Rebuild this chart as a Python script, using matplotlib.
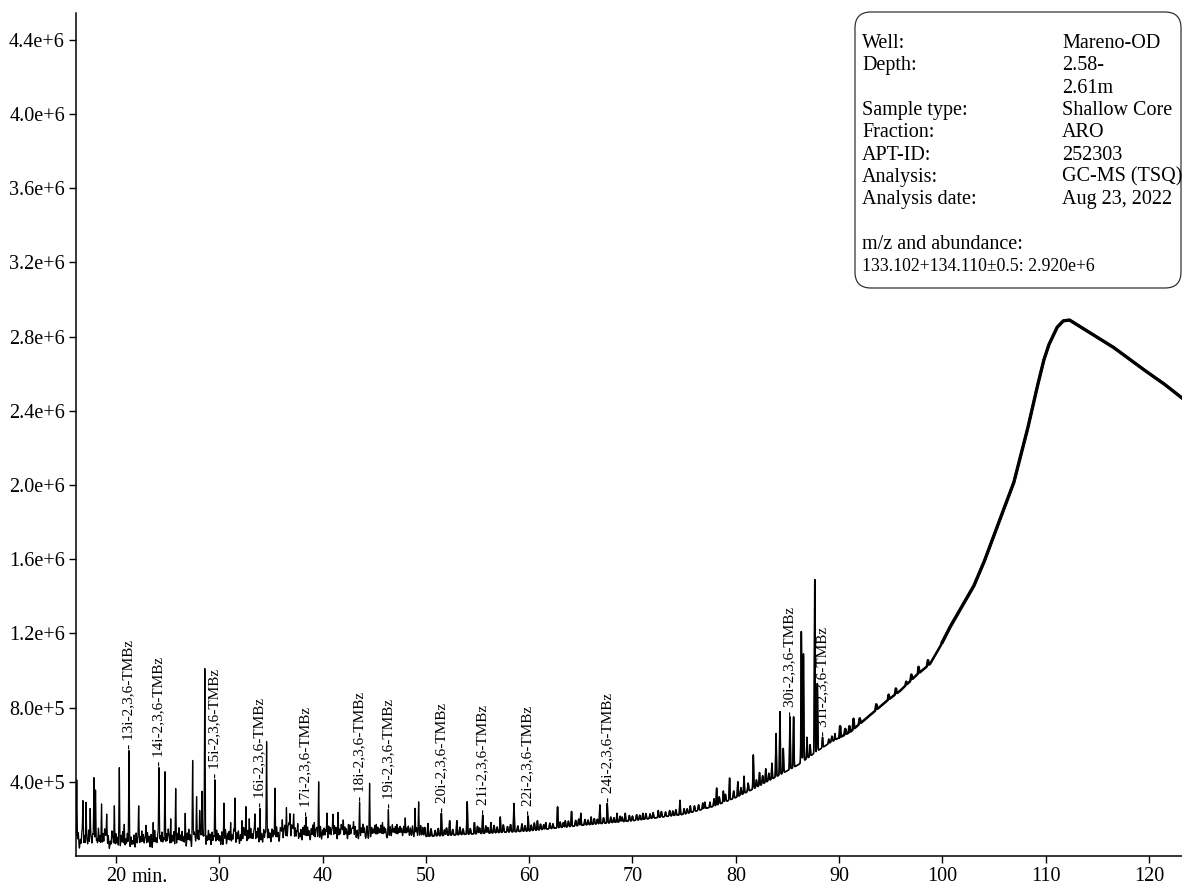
import numpy as np
import matplotlib
matplotlib.use("Agg")
import matplotlib.pyplot as plt
from matplotlib.patches import FancyBboxPatch
from matplotlib.transforms import IdentityTransform

plt.rcParams['font.family'] = ['Liberation Serif', 'DejaVu Serif']

# --- baseline of the chromatogram (retention time [min], abundance) ---
base_t = [16.13, 16.4, 20, 25, 30, 35, 40, 45, 50, 55, 60, 65, 70, 75, 78, 80, 82, 84,
          86, 88, 89.1, 91.1, 92.7, 94.6, 95.9, 97.5, 98.8, 99.7, 100.7, 102.0, 103.0,
          104.0, 105.3, 106.9, 108.2, 109.1, 109.8, 110.3, 111.1, 111.7, 112.3, 113.3,
          114.9, 116.5, 118.2, 119.8, 121.4, 123.3]
base_v = [0.6e5, 0.3e5, 0.3e5, 0.4e5, 0.5e5, 0.65e5, 0.8e5, 0.95e5, 1.05e5, 1.2e5,
          1.35e5, 1.65e5, 1.9e5, 2.25e5, 2.7e5, 3.15e5, 3.7e5, 4.3e5, 4.9e5, 5.7e5,
          6.1e5, 6.7e5, 7.45e5, 8.35e5, 8.9e5, 9.75e5, 1.035e6, 1.12e6, 1.23e6, 1.355e6,
          1.45e6, 1.58e6, 1.775e6, 2.01e6, 2.29e6, 2.51e6, 2.67e6, 2.755e6, 2.85e6,
          2.885e6, 2.89e6, 2.855e6, 2.80e6, 2.745e6, 2.675e6, 2.61e6, 2.548e6, 2.465e6]

# --- resolved peaks (retention time, apex abundance) ---
peak_t = [16.2, 16.8, 17.1, 17.5, 17.87, 18.02, 18.6, 19.1, 19.84, 20.32, 20.8, 21.26,
          22.2, 22.9, 23.6, 24.16, 24.74, 25.3, 25.78, 26.7, 27.42, 27.8, 28.1, 28.32,
          28.6, 29.58, 30.45, 31.1, 31.52, 32.2, 32.58, 32.9, 33.45, 33.94, 34.58, 35.39,
          36.1, 36.5, 36.85, 37.2, 37.6, 38.4, 39.2, 39.62, 40.42, 41.0, 41.5, 42.0,
          42.5, 43.0, 43.58, 44.55, 45.2, 45.8, 46.37, 47.2, 48.0, 48.95, 49.3, 50.2,
          51.5, 52.3, 53.0, 54.0, 54.7, 55.5, 56.3, 57.2, 58.53, 59.9, 60.8, 61.6, 62.75,
          63.5, 64.1, 65.0, 66.0, 66.85, 67.56, 68.5, 69.3, 71.0, 72.5, 74.6, 75.6, 76.8,
          77.5, 78.15, 78.8, 79.4, 80.2, 80.8, 81.7, 82.3, 82.9, 83.5, 83.9, 84.28, 84.6,
          85.25, 85.6, 86.35, 86.55, 86.9, 87.2, 87.65, 87.9, 88.4, 89.0, 89.6, 90.1,
          91.0, 91.4, 93.0, 94.8, 96.5, 97.7]
peak_top = [4.1e5, 2.9e5, 2.85e5, 2.5e5, 4.2e5, 3.55e5, 2.8e5, 2.2e5, 2.7e5, 4.76e5,
            1.7e5, 5.68e5, 2.65e5, 1.6e5, 1.8e5, 4.72e5, 4.54e5, 2.0e5, 3.64e5, 2.3e5,
            5.14e5, 3.2e5, 2.4e5, 3.46e5, 1.01e6, 4.1e5, 2.85e5, 1.8e5, 3.1e5, 1.9e5,
            2.65e5, 2.0e5, 2.2e5, 2.56e5, 6.16e5, 3.65e5, 1.9e5, 2.6e5, 2.2e5, 2.2e5,
            1.7e5, 2.1e5, 1.8e5, 4.0e5, 2.3e5, 2.2e5, 2.35e5, 1.9e5, 1.7e5, 1.8e5,
            2.9e5, 3.92e5, 1.7e5, 1.8e5, 2.5e5, 1.7e5, 2.05e5, 2.57e5, 2.92e5, 1.75e5,
            2.3e5, 1.9e5, 1.9e5, 2.92e5, 1.8e5, 2.2e5, 1.8e5, 2.1e5, 2.83e5, 2.15e5,
            1.9e5, 1.8e5, 2.65e5, 1.9e5, 2.4e5, 2.3e5, 2.1e5, 2.75e5, 2.83e5, 2.3e5,
            2.3e5, 2.3e5, 2.45e5, 3.0e5, 2.7e5, 2.85e5, 2.9e5, 3.66e5, 3.5e5, 4.2e5,
            4.0e5, 4.3e5, 5.45e5, 4.5e5, 4.7e5, 5.0e5, 6.6e5, 7.78e5, 5.8e5, 7.5e5,
            7.5e5, 1.21e6, 1.09e6, 6.4e5, 6.0e5, 1.49e6, 9.3e5, 6.4e5, 6.3e5, 6.6e5,
            7.0e5, 7.0e5, 7.4e5, 7.6e5, 8.7e5, 9.4e5, 1.02e6]

# --- small unresolved peaks (retention time, height above baseline in 1e5) ---
grass = [(16.35, .9), (16.55, .6), (16.7, 1.0), (16.95, .8), (17.2, .5), (17.35, 1.1),
         (17.6, .7), (17.75, .9), (18.15, .6), (18.3, 1.2), (18.45, .8), (18.75, .9),
         (18.9, 1.1), (19.0, .7), (19.25, .8), (19.45, .5), (19.6, 1.0), (19.7, .6),
         (20.0, .9), (20.15, .7), (20.5, .8), (20.65, 1.0), (20.95, .6), (21.1, .9),
         (21.45, .7), (21.6, .5), (21.75, .8), (21.95, .9), (22.1, .6), (22.35, .7),
         (22.5, 1.0), (22.65, .8), (22.8, .6), (23.05, .9), (23.2, .7), (23.4, .8),
         (23.75, 1.0), (23.9, .6), (24.05, .8), (24.3, .7), (24.45, .9), (24.6, .6),
         (24.9, .8), (25.05, 1.0), (25.15, .6), (25.45, .7), (25.6, .9), (25.95, .8),
         (26.1, 1.1), (26.25, .7), (26.4, .9), (26.55, .6), (26.9, .8), (27.05, 1.0),
         (27.2, .7), (27.55, .8), (27.65, .6), (27.95, .9), (28.2, .7), (28.45, .8),
         (28.8, .6), (28.95, .9), (29.1, .7), (29.3, .8), (29.45, .6), (29.75, .9),
         (29.9, .7), (30.05, .6), (30.25, .8), (30.6, .9), (30.8, .7), (30.95, .8),
         (31.25, .6), (31.4, .9), (31.7, .7), (31.85, .8), (32.05, .6), (32.35, .9),
         (32.45, .7), (32.75, .8), (33.05, .9), (33.2, .6), (33.35, .8), (33.6, .7),
         (33.75, .9), (34.1, .6), (34.3, .8), (34.45, .7), (34.75, .8), (34.9, .6),
         (35.1, .8), (35.25, .7), (35.55, .9), (35.7, .6), (35.9, .8), (36.0, .6),
         (36.25, .7), (36.35, .9), (36.65, .8), (36.75, 1.0), (37.0, .9), (37.1, .7),
         (37.35, .8), (37.5, .6), (37.75, .5), (37.9, .7), (38.1, .8), (38.25, .9),
         (38.55, .8), (38.7, .6), (38.9, .7), (39.05, .9), (39.35, .6), (39.45, .7),
         (39.8, .8), (40.0, .6), (40.15, .7), (40.3, .6), (40.6, .8), (40.75, .7),
         (40.9, .6), (41.15, .8), (41.3, .7), (41.65, .6), (41.8, .8), (41.9, .5),
         (42.15, .7), (42.3, .6), (42.65, .8), (42.8, .5), (42.9, .6), (43.15, .7),
         (43.35, .5), (43.75, .6), (43.9, .8), (44.05, .6), (44.3, .7), (44.75, .6),
         (44.9, .5), (45.05, .7), (45.35, .6), (45.5, .5), (45.65, .7), (45.95, .6),
         (46.1, .5), (46.55, .6), (46.75, .7), (46.9, .5), (47.05, .6), (47.35, .5),
         (47.5, .6), (47.65, .5), (47.85, .6), (48.15, .5), (48.3, .6), (48.5, .5),
         (48.7, .6), (49.1, .5), (49.5, .6), (49.7, .5), (49.9, .5),
         (50.5, .4), (50.9, .3), (51.2, .4), (51.8, .3), (52.0, .4), (52.6, .3),
         (53.3, .4), (53.6, .3), (54.3, .3), (55.0, .4), (55.2, .3), (55.8, .4),
         (56.0, .3), (56.6, .4), (56.9, .3), (57.5, .4), (57.9, .3), (58.2, .4),
         (58.9, .3), (59.3, .4), (59.6, .3), (60.2, .3), (60.5, .4), (61.1, .3),
         (61.4, .25), (62.0, .3), (62.3, .25), (63.0, .3), (63.3, .25), (63.8, .3),
         (64.5, .3), (64.8, .35), (65.4, .3), (65.7, .25), (66.3, .3), (66.6, .25),
         (67.2, .3), (67.9, .3), (68.2, .25), (68.8, .3), (69.0, .25), (69.7, .3),
         (70.0, .25), (70.4, .3), (70.7, .25), (71.3, .3), (71.7, .25), (72.0, .3),
         (72.8, .3), (73.2, .25), (73.6, .3), (73.9, .25), (74.2, .3), (75.0, .3),
         (75.3, .25), (76.0, .3), (76.4, .3), (77.0, .35), (77.9, .4), (78.4, .4),
         (79.0, .4), (79.8, .4), (80.5, .4), (81.2, .45), (82.0, .4), (82.6, .45),
         (83.2, .4), (89.3, .3), (90.6, .3), (92.0, .3), (93.6, .3), (95.5, .3),
         (97.0, .3), (98.6, .3)]

# --- annotated compounds (label, retention time) ---
label_names = ['13i-2,3,6-TMBz', '14i-2,3,6-TMBz', '15i-2,3,6-TMBz', '16i-2,3,6-TMBz',
               '17i-2,3,6-TMBz', '18i-2,3,6-TMBz', '19i-2,3,6-TMBz', '20i-2,3,6-TMBz',
               '21i-2,3,6-TMBz', '22i-2,3,6-TMBz', '24i-2,3,6-TMBz', '30i-2,3,6-TMBz',
               '31i-2,3,6-TMBz']
label_t = [21.26, 24.16, 29.58, 33.94, 38.4, 43.58, 46.37, 51.5, 55.5, 59.9, 67.56,
           85.25, 88.4]

info_keys = ['Well:', 'Depth:', '', 'Sample type:', 'Fraction:', 'APT-ID:', 'Analysis:',
             'Analysis date:', '', 'm/z and abundance:']
info_vals = ['Mareno-OD', '2.58-', '2.61m', 'Shallow Core', 'ARO', '252303', 'GC-MS (TSQ)',
             'Aug 23, 2022', '', '']
mz_line = '133.102+134.110\u00b10.5: 2.920e+6'

# --- build trace ---
t = np.arange(16.13, 123.3, 0.01)
signal = np.interp(t, base_t, base_v)
for tp, top in zip(peak_t, peak_top):
    amp = top - np.interp(tp, base_t, base_v)
    signal += amp * np.exp(-0.5 * ((t - tp) / 0.035) ** 2)
for tp, h in grass:
    signal += h * 1e5 * np.exp(-0.5 * ((t - tp) / 0.045) ** 2)

W, H = 1182, 891
fig = plt.figure(figsize=(W / 100, H / 100), dpi=100)
ax = fig.add_axes([76 / W, 35 / H, (W - 76) / W, (856 - 13) / H])

ax.plot(t, signal, color='black', lw=0.9)
mid = (t >= 50) & (t < 90)
ax.plot(t[mid], signal[mid], color='black', lw=1.1)
hump = t >= 90
ax.plot(t[hump], signal[hump], color='black', lw=1.8)
top_part = t >= 100
ax.plot(t[top_part], signal[top_part], color='black', lw=2.4)

ax.set_xlim(16.13, 123.2)
ax.set_ylim(0, 4.545e6)

for sp in ['top', 'right']:
    ax.spines[sp].set_visible(False)
for sp in ['left', 'bottom']:
    ax.spines[sp].set_linewidth(1.1)

yt = np.arange(4e5, 4.41e6, 4e5)
def sci(v):
    e = int(np.floor(np.log10(v)))
    return f"{v / 10**e:.1f}e+{e}"
ax.set_yticks(yt)
ax.set_yticklabels([sci(v) for v in yt])
xt = np.arange(20, 121, 10)
ax.set_xticks(xt)
ax.set_xticklabels([str(v) for v in xt])
ax.tick_params(axis='both', labelsize=14.5, length=5, width=1.0, pad=3)
ax.annotate('min.', xy=(20, 0), xycoords=('data', 'axes fraction'),
            xytext=(11.5, -8.5), textcoords='offset points', ha='left', va='top',
            fontsize=14.5)

# compound labels
for name, lt in zip(label_names, label_t):
    win = (t > lt - 0.08) & (t < lt + 0.08)
    ly = signal[win].max()
    ax.annotate('- ' + name, xy=(lt, ly), xytext=(0, 1), textcoords='offset points',
                rotation=90, ha='center', va='bottom', fontsize=11)

# info box (pixel coordinates, origin bottom-left)
box = FancyBboxPatch((855, H - 288), 326, 276,
                     boxstyle='round,pad=0,rounding_size=16',
                     transform=IdentityTransform(), fill=False,
                     edgecolor='#333333', lw=0.9, clip_on=False)
fig.patches.append(box)
row_step = 22.3
for i, (k, v) in enumerate(zip(info_keys, info_vals)):
    yb = H - (48 + row_step * i)
    fig.text(862 / W, yb / H, k, fontsize=14.5, va='baseline', ha='left')
    fig.text(1062 / W, yb / H, v, fontsize=14.5, va='baseline', ha='left')
fig.text(862 / W, (H - (48 + row_step * 10)) / H, mz_line, fontsize=12.8,
         va='baseline', ha='left')

fig.savefig('out.png', dpi=100)
